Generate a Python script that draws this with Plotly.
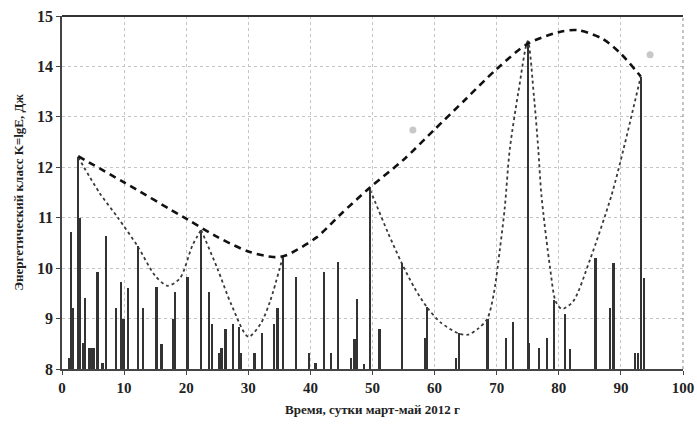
import plotly.graph_objects as go

# Event bars (day, energy class K)
bar_days = [1.2, 1.5, 1.8, 2.6, 2.8, 3.4, 3.7, 4.4, 4.8, 5.2, 5.7, 6.5, 7.1, 8.7, 9.5, 9.9,
            10.6, 12.2, 13.0, 15.2, 16.0, 17.9, 18.2, 20.2, 22.4, 23.7, 24.2, 25.3, 25.7,
            26.3, 27.5, 28.5, 28.8, 31.0, 32.2, 34.1, 34.7, 35.6, 37.7, 39.8, 40.8, 42.2,
            43.3, 44.4, 46.5, 47.1, 47.5, 48.6, 49.6, 51.1, 54.7, 58.5, 58.8, 63.4, 63.9,
            68.5, 71.5, 72.6, 75.0, 75.2, 76.8, 78.1, 79.2, 81.0, 81.8, 85.9, 88.2, 88.8,
            92.3, 92.8, 93.2, 93.7]
bar_k = [8.22, 10.72, 9.2, 12.2, 11.0, 8.52, 9.41, 8.41, 8.41, 8.41, 9.92, 8.12, 10.64, 9.2,
         9.72, 9.0, 9.6, 10.43, 9.2, 9.62, 8.5, 9.0, 9.52, 9.82, 10.76, 9.52, 8.9, 8.31, 8.41,
         8.79, 8.89, 8.84, 8.31, 8.31, 8.71, 8.9, 9.2, 10.24, 9.83, 8.31, 8.11, 9.92, 8.31,
         10.12, 8.22, 8.6, 9.39, 8.09, 11.56, 8.79, 10.1, 8.61, 9.22, 8.21, 8.71, 9.0, 8.61,
         8.93, 14.5, 8.51, 8.41, 8.61, 9.37, 9.09, 8.4, 10.2, 9.2, 10.1, 8.31, 8.31, 13.8, 9.8]

# Thin dotted envelope (segments)
thin1_x = [2.6, 6.0, 9.0, 12.2, 15.0, 17.0, 19.0, 21.0, 22.4]
thin1_y = [12.2, 11.5, 11.0, 10.43, 9.85, 9.65, 9.8, 10.45, 10.76]
thin2_x = [22.4, 25.0, 27.3, 30.0, 32.0, 33.5, 35.6]
thin2_y = [10.76, 10.0, 9.27, 8.64, 8.9, 9.34, 10.24]
thin3_x = [49.6, 50.4, 52.5, 54.7, 56.8, 58.8, 61.0, 63.8, 65.4, 67.0, 68.5, 69.5, 70.5,
           71.3, 72.1, 73.5, 75.0, 76.0, 76.7, 77.2, 78.6, 79.5, 80.5, 82.3, 85.0, 88.5,
           90.4, 93.2]
thin3_y = [11.55, 11.32, 10.7, 10.1, 9.6, 9.22, 8.92, 8.71, 8.68, 8.8, 9.0, 9.47, 10.36,
           11.2, 12.35, 13.5, 14.5, 13.4, 12.35, 11.45, 10.0, 9.34, 9.19, 9.34, 10.16, 11.45,
           12.35, 13.8]

# Thick dashed upper envelope
dash_x = [2.6, 10, 20, 25, 30, 34, 36, 41, 44.8, 49.6, 55, 60, 65, 70, 75, 80, 83, 87, 90, 93.2]
dash_y = [12.22, 11.7, 10.98, 10.62, 10.33, 10.22, 10.25, 10.61, 11.06, 11.6, 12.15, 12.75,
          13.35, 13.95, 14.45, 14.68, 14.72, 14.55, 14.25, 13.8]

# Stray grey marks
dot_x = [56.5, 94.7]
dot_y = [12.74, 14.23]

x_ticks = [0, 10, 20, 30, 40, 50, 60, 70, 80, 90, 100]
y_ticks = [8, 9, 10, 11, 12, 13, 14, 15]

SERIF = "Liberation Serif"

fig = go.Figure()
fig.add_trace(go.Bar(x=bar_days, y=[k - 8 for k in bar_k], base=8, width=0.38,
                     marker=dict(color="#1e1e1e", line=dict(width=0)), opacity=0.9))
for tx, ty in [(thin1_x, thin1_y), (thin2_x, thin2_y), (thin3_x, thin3_y)]:
    fig.add_trace(go.Scatter(x=tx, y=ty, mode="lines",
                             line=dict(color="#3a3a3a", width=1.8, dash="dot", shape="spline", smoothing=0.8)))
fig.add_trace(go.Scatter(x=dash_x, y=dash_y, mode="lines",
                         line=dict(color="#111111", width=2.6, dash="7px,5px", shape="spline", smoothing=0.8)))
fig.add_trace(go.Scatter(x=dot_x, y=dot_y, mode="markers",
                         marker=dict(color="#c8c8c8", size=7)))

fig.update_layout(
    width=697, height=427,
    margin=dict(l=62, r=14, t=16, b=58),
    paper_bgcolor="white", plot_bgcolor="white",
    showlegend=False, bargap=0,
    font=dict(family=SERIF, size=14, color="#222"),
)
fig.update_xaxes(range=[0, 100], tickvals=x_ticks, ticktext=[str(v) for v in x_ticks],
                 automargin=False, ticklabeloverflow="allow",
                 showgrid=True, gridcolor="#c4c4c4", griddash="dot", gridwidth=1,
                 showline=True, linecolor="#444", linewidth=1.5,
                 ticks="outside", ticklen=4, tickcolor="#444",
                 tickfont=dict(family=SERIF, size=15, weight="bold", color="#222"),
                 title=dict(text="Время, сутки март-май 2012 г",
                            font=dict(family=SERIF, size=13, weight="bold", color="#222"), standoff=10),
                 zeroline=False)
fig.update_yaxes(range=[8, 15], tickvals=y_ticks, ticktext=[str(v) for v in y_ticks],
                 automargin=False, ticklabeloverflow="allow",
                 showgrid=True, gridcolor="#c4c4c4", griddash="dot", gridwidth=1,
                 showline=True, linecolor="#444", linewidth=1.5,
                 ticks="outside", ticklen=4, tickcolor="#444",
                 tickfont=dict(family=SERIF, size=16, weight="bold", color="#222"),
                 title=dict(text="Энергетический класс K=lgE, Дж",
                            font=dict(family=SERIF, size=13, weight="bold", color="#222"), standoff=10),
                 zeroline=False)
# top border solid, right border dotted
fig.add_shape(type="line", xref="paper", yref="paper", x0=0, x1=1, y0=1, y1=1,
              line=dict(color="#333", width=2))
fig.add_shape(type="line", xref="paper", yref="paper", x0=1, x1=1, y0=0, y1=1,
              line=dict(color="#888", width=1, dash="dot"))

fig.write_html("out.html", config={"displayModeBar": False},
               post_script="document.body.style.margin='0';document.body.style.overflow='hidden';")
